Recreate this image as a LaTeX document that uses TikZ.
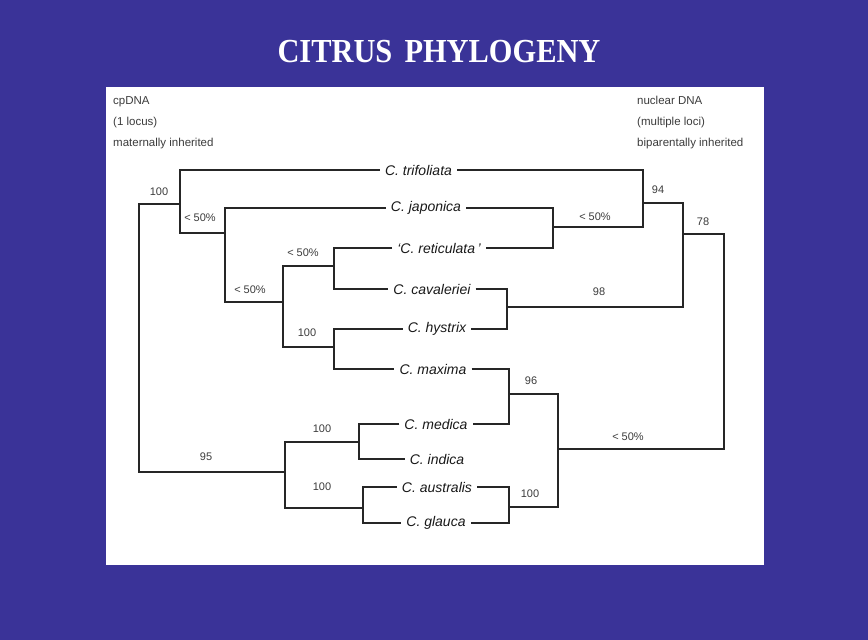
\documentclass[tikz,border=0pt]{standalone}
\usepackage{fontspec}
\setmainfont{Liberation Sans}
\newfontfamily\titlefont{Liberation Serif}
\definecolor{slideblue}{RGB}{58,51,152}
\definecolor{txtgray}{RGB}{60,60,60}
\begin{document}
\begin{tikzpicture}[x=1pt,y=-1pt,
  taxon/.style={inner xsep=5pt,inner ysep=0pt,text=black!90,font=\fontsize{14}{16}\selectfont\itshape},
  boot/.style={inner sep=0pt,text=txtgray,font=\fontsize{11}{13}\selectfont},
  note/.style={inner sep=0pt,anchor=base west,text=txtgray,font=\fontsize{11.5}{13}\selectfont},
  branch/.style={line width=1.6pt,black!85}]
\useasboundingbox (0,0) rectangle (868,640);
\fill[slideblue] (0,0) rectangle (868,640);
\fill[white] (106,87) rectangle (764,565);
\node[text=white,font=\titlefont\bfseries\fontsize{32}{36}\selectfont,xscale=0.95,yscale=1.05] (title) at (439,52) {CITRUS\hspace{0.4em}PHYLOGENY};
% notes
\node[note] (n1) at (113,104) {cpDNA};
\node[note] (n2) at (113,125) {(1 locus)};
\node[note] (n3) at (113,146) {maternally inherited};
\node[note] (n4) at (637,104) {nuclear DNA};
\node[note] (n5) at (637,125) {(multiple loci)};
\node[note] (n6) at (637,146) {biparentally inherited};
% taxa
\node[taxon] (tri) at (418.5,170) {C. trifoliata};
\node[taxon] (jap) at (426,208) {C. japonica};
\node[taxon] (ret) at (439,248) {‘C. reticulata\,’};
\node[taxon] (cav) at (432,289) {C. cavaleriei};
\node[taxon] (hys) at (437,329) {C. hystrix};
\node[taxon] (max) at (433,369) {C. maxima};
\node[taxon] (med) at (436,424) {C. medica};
\node[taxon] (ind) at (437,459) {C. indica};
\node[taxon] (aus) at (437,487) {C. australis};
\node[taxon] (gla) at (436,523) {C. glauca};
% left tree coordinates
\coordinate (L1) at (139,338);
\coordinate (A) at (180,204);
\coordinate (B) at (225,233);
\coordinate (C) at (283,302);
\coordinate (D) at (334,266);
\coordinate (E) at (334,347);
\coordinate (F) at (285,472);
\coordinate (G) at (359,442);
\coordinate (H) at (363,508);
\draw[branch] (A) -| (L1) |- (F);
\draw[branch] (tri.west) -| (A) |- (B);
\draw[branch] (jap.west) -| (B) |- (C);
\draw[branch] (D) -| (C) |- (E);
\draw[branch] (ret.west) -| (D) |- (cav.west);
\draw[branch] (hys.west) -| (E) |- (max.west);
\draw[branch] (G) -| (F) |- (H);
\draw[branch] (med.west) -| (G) |- (ind.west);
\draw[branch] (aus.west) -| (H) |- (gla.west);
% right tree coordinates
\coordinate (R1) at (724,340);
\coordinate (K) at (683,234);
\coordinate (I) at (643,203);
\coordinate (J) at (553,227);
\coordinate (Lr) at (507,307);
\coordinate (O) at (558,449);
\coordinate (M) at (509,394);
\coordinate (N) at (509,507);
\draw[branch] (K) -| (R1) |- (O);
\draw[branch] (I) -| (K) |- (Lr);
\draw[branch] (tri.east) -| (I) |- (J);
\draw[branch] (jap.east) -| (J) |- (ret.east);
\draw[branch] (cav.east) -| (Lr) |- (hys.east);
\draw[branch] (M) -| (O) |- (N);
\draw[branch] (max.east) -| (M) |- (med.east);
\draw[branch] (aus.east) -| (N) |- (gla.east);
% bootstrap values left
\node[boot] (bA) at (159,192) {100};
\node[boot] (bB) at (200,218) {< 50\%};
\node[boot] (bD) at (303,253) {< 50\%};
\node[boot] (bC) at (250,290) {< 50\%};
\node[boot] (bE) at (307,333) {100};
\node[boot] (bL1) at (206,457) {95};
\node[boot] (bG) at (322,429) {100};
\node[boot] (bH) at (322,487) {100};
% bootstrap values right
\node[boot] (bI) at (658,190) {94};
\node[boot] (bJ) at (595,217) {< 50\%};
\node[boot] (bK) at (703,222) {78};
\node[boot] (bL) at (599,292) {98};
\node[boot] (bM) at (531,381) {96};
\node[boot] (bN) at (530,494) {100};
\node[boot] (bO) at (628,437) {< 50\%};
\end{tikzpicture}
\end{document}
